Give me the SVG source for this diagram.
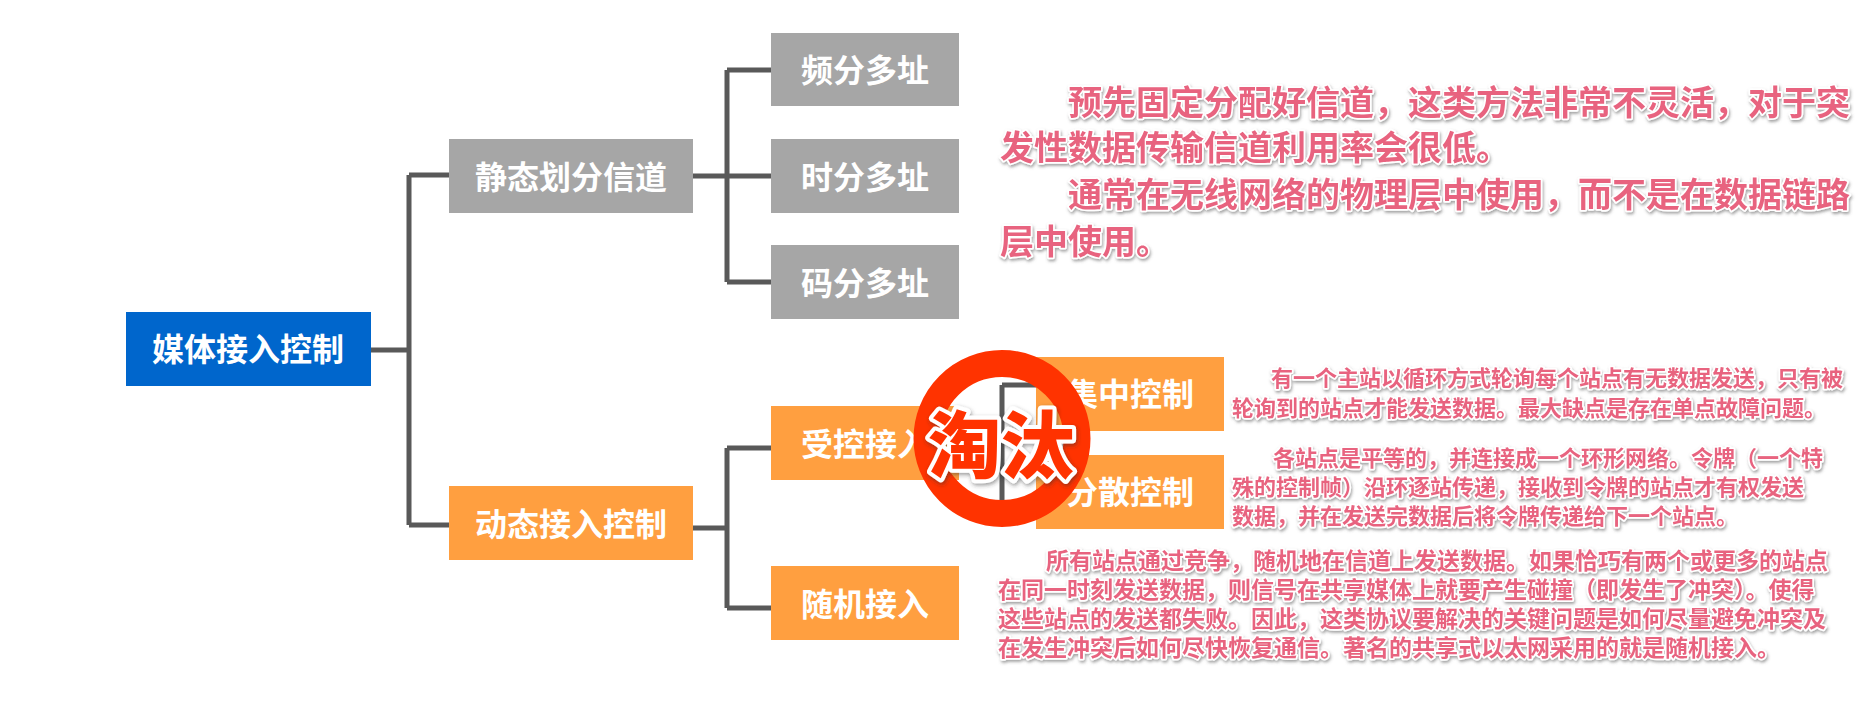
<svg xmlns="http://www.w3.org/2000/svg" width="1864" height="710" viewBox="0 0 1864 710">
<defs>
<filter id="sh" x="-5%" y="-20%" width="110%" height="150%"><feDropShadow dx="1" dy="2" stdDeviation="1.5" flood-color="#555" flood-opacity="0.55"/></filter>
<filter id="sh2" x="-10%" y="-10%" width="120%" height="120%"><feDropShadow dx="1" dy="2" stdDeviation="2" flood-color="#333" flood-opacity="0.5"/></filter>
</defs>
<style>
text{font-family:"Liberation Sans","Noto Sans CJK SC",sans-serif}
.n{font-size:32px;font-weight:700;fill:#fff;text-anchor:middle}
.g{fill:#a6a6a6}.o{fill:#ff9f40}.b{fill:#0066cc}
.c{fill:none;stroke:#595959;stroke-width:5}
.p{font-weight:700;fill:#e8637f;stroke:#fff;stroke-width:3.5px;paint-order:stroke;stroke-linejoin:round;filter:url(#sh)}
.p1{font-size:34px}.p2{font-size:22px}.p3{font-size:23px}
</style>
<rect width="1864" height="710" fill="#fff"/>
<g id="connectors">
<path class="c" d="M371 350H409M409 175V525M409 175H449M409 525H449"/>
<path class="c" d="M693 176H727M727 70V282M727 70H771M727 176H771M727 282H771"/>
<path class="c" d="M693 528H727M727 448V608M727 448H771M727 608H771"/>
<path class="c" d="M959 444H1002M1002 385V510M1002 385H1036M1002 510H1036"/>
</g>
<g id="n-root"><rect class="b" x="126" y="312" width="245" height="74"/><text class="n" x="248" y="361">媒体接入控制</text></g>
<g id="n-static"><rect class="g" x="449" y="139" width="244" height="74"/><text class="n" x="571" y="189">静态划分信道</text></g>
<g id="n-dynamic"><rect class="o" x="449" y="486" width="244" height="74"/><text class="n" x="571" y="536">动态接入控制</text></g>
<g id="n-fdma"><rect class="g" x="771" y="33" width="188" height="73"/><text class="n" x="865" y="82">频分多址</text></g>
<g id="n-tdma"><rect class="g" x="771" y="139" width="188" height="74"/><text class="n" x="865" y="189">时分多址</text></g>
<g id="n-cdma"><rect class="g" x="771" y="245" width="188" height="74"/><text class="n" x="865" y="295">码分多址</text></g>
<g id="n-ctrl"><rect class="o" x="771" y="406" width="188" height="74"/><text class="n" x="865" y="456">受控接入</text></g>
<g id="n-rand"><rect class="o" x="771" y="566" width="188" height="74"/><text class="n" x="865" y="616">随机接入</text></g>
<g id="n-central"><rect class="o" x="1036" y="357" width="188" height="74"/><text class="n" x="1130" y="406">集中控制</text></g>
<g id="n-dist"><rect class="o" x="1036" y="455" width="188" height="74"/><text class="n" x="1130" y="504">分散控制</text></g>
<g id="n-stamp">
<circle cx="1002" cy="438.5" r="75" fill="none" stroke="#ff3300" stroke-width="27"/>
<text x="1001" y="472" font-size="73" font-weight="900" text-anchor="middle" fill="#ff3300" stroke="#fff" stroke-width="8" paint-order="stroke" stroke-linejoin="round" filter="url(#sh2)">淘汰</text>
</g>
<g id="notes">
<text class="p p1" x="1068" y="115">预先固定分配好信道，这类方法非常不灵活，对于突</text>
<text class="p p1" x="1000" y="160">发性数据传输信道利用率会很低。</text>
<text class="p p1" x="1068" y="207">通常在无线网络的物理层中使用，而不是在数据链路</text>
<text class="p p1" x="1000" y="254">层中使用。</text>
<text class="p p2" x="1271" y="386">有一个主站以循环方式轮询每个站点有无数据发送，只有被</text>
<text class="p p2" x="1232" y="416">轮询到的站点才能发送数据。最大缺点是存在单点故障问题。</text>
<text class="p p2" x="1273" y="466">各站点是平等的，并连接成一个环形网络。令牌（一个特</text>
<text class="p p2" x="1232" y="495">殊的控制帧）沿环逐站传递，接收到令牌的站点才有权发送</text>
<text class="p p2" x="1232" y="524">数据，并在发送完数据后将令牌传递给下一个站点。</text>
<text class="p p3" x="1046" y="569">所有站点通过竞争，随机地在信道上发送数据。如果恰巧有两个或更多的站点</text>
<text class="p p3" x="998" y="598">在同一时刻发送数据，则信号在共享媒体上就要产生碰撞（即发生了冲突）。使得</text>
<text class="p p3" x="998" y="627">这些站点的发送都失败。因此，这类协议要解决的关键问题是如何尽量避免冲突及</text>
<text class="p p3" x="998" y="656">在发生冲突后如何尽快恢复通信。著名的共享式以太网采用的就是随机接入。</text>
</g>
</svg>
